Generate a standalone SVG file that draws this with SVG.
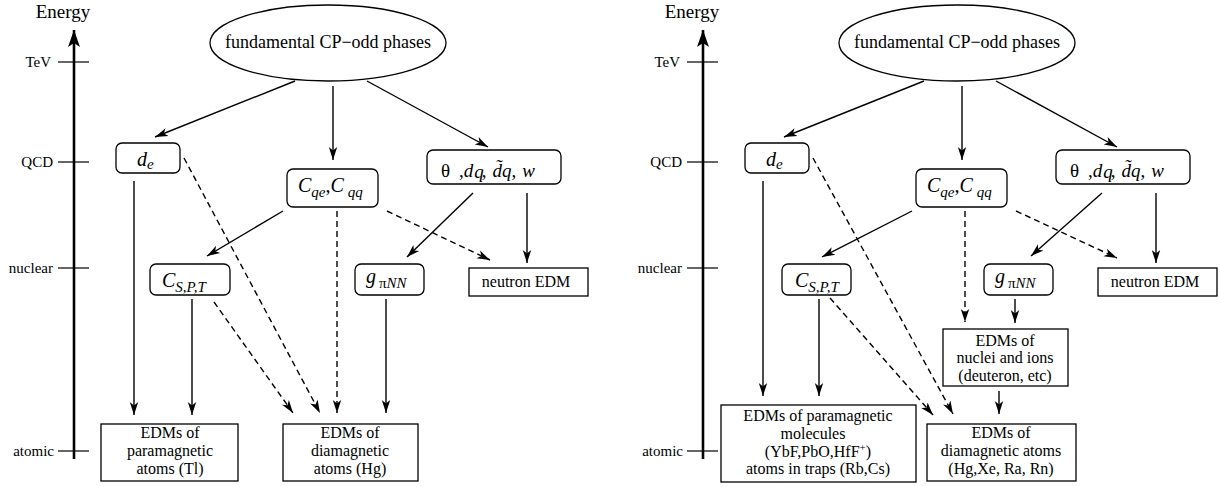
<svg xmlns="http://www.w3.org/2000/svg" width="1220" height="487" viewBox="0 0 1220 487">
<style>
text{font-family:"Liberation Serif","Times New Roman",serif;fill:#000}
.t{font-size:16px;text-anchor:middle}
.ax{font-size:15px;text-anchor:end}
.en{font-size:19px;text-anchor:middle}
.el{font-size:18px;text-anchor:middle}
.m{font-size:20px}
.th{font-size:19px}
.i{font-style:italic}
.s{font-size:15px}
.box{fill:#fff;stroke:#000;stroke-width:1.3}
.axis{stroke:#000;stroke-width:2.6;fill:none}
.tick{stroke:#000;stroke-width:1.2}
.c{stroke:#000;stroke-width:1.4;fill:none;marker-end:url(#ah)}
.d{stroke:#000;stroke-width:1.4;fill:none;stroke-dasharray:6,4;marker-end:url(#ah)}
</style>
<defs>
<marker id="ah" markerWidth="14" markerHeight="10" refX="13" refY="5" orient="auto" markerUnits="userSpaceOnUse"><path d="M0,0.8 L13,5 L0,9.2 L3.5,5 z" fill="#000"/></marker>
<marker id="axh" markerWidth="18" markerHeight="13" refX="17" refY="6.5" orient="auto" markerUnits="userSpaceOnUse"><path d="M0,0.5 L17,6.5 L0,12.5 L4,6.5 z" fill="#000"/></marker>
</defs>

<!-- LEFT PANEL AXIS -->
<g id="axis-left">
<text class="en" x="63" y="18">Energy</text>
<line class="axis" x1="74" y1="459" x2="74" y2="30" marker-end="url(#axh)"/>
<line class="tick" x1="58" y1="62" x2="89" y2="62"/>
<line class="tick" x1="58" y1="162" x2="89" y2="162"/>
<line class="tick" x1="58" y1="268" x2="89" y2="268"/>
<line class="tick" x1="58" y1="451" x2="89" y2="451"/>
<text class="ax" x="51" y="67">TeV</text>
<text class="ax" x="53" y="167">QCD</text>
<text class="ax" x="53" y="273">nuclear</text>
<text class="ax" x="54" y="456">atomic</text>
</g>

<!-- RIGHT PANEL AXIS -->
<g id="axis-right">
<text class="en" x="692" y="18">Energy</text>
<line class="axis" x1="703" y1="459" x2="703" y2="30" marker-end="url(#axh)"/>
<line class="tick" x1="687" y1="62" x2="718" y2="62"/>
<line class="tick" x1="687" y1="162" x2="718" y2="162"/>
<line class="tick" x1="687" y1="268" x2="718" y2="268"/>
<line class="tick" x1="687" y1="451" x2="718" y2="451"/>
<text class="ax" x="680" y="67">TeV</text>
<text class="ax" x="682" y="167">QCD</text>
<text class="ax" x="682" y="273">nuclear</text>
<text class="ax" x="683" y="456">atomic</text>
</g>

<!-- CONNECTORS -->
<g id="connectors">
<!-- left -->
<line class="c" x1="295" y1="81" x2="155" y2="137"/>
<line class="c" x1="333" y1="86" x2="333" y2="160"/>
<line class="c" x1="367" y1="81" x2="488" y2="147"/>
<line class="c" x1="134" y1="181" x2="134" y2="415"/>
<line class="d" x1="184" y1="158" x2="320" y2="413"/>
<line class="d" x1="214" y1="302" x2="293" y2="413"/>
<line class="d" x1="337" y1="211" x2="337" y2="413"/>
<line class="c" x1="283" y1="211" x2="207" y2="256"/>
<line class="d" x1="387" y1="211" x2="490" y2="260"/>
<line class="c" x1="473" y1="193" x2="407" y2="257"/>
<line class="c" x1="527" y1="193" x2="527" y2="263"/>
<line class="c" x1="192" y1="299" x2="192" y2="415"/>
<line class="c" x1="386" y1="299" x2="386" y2="413"/>
<!-- right -->
<line class="c" x1="924" y1="81" x2="784" y2="137"/>
<line class="c" x1="962" y1="86" x2="962" y2="160"/>
<line class="c" x1="996" y1="81" x2="1117" y2="147"/>
<line class="c" x1="763" y1="181" x2="763" y2="396"/>
<line class="d" x1="813" y1="158" x2="953" y2="414"/>
<line class="d" x1="830" y1="298" x2="933" y2="415"/>
<line class="d" x1="965" y1="211" x2="965" y2="322"/>
<line class="c" x1="912" y1="211" x2="822" y2="257"/>
<line class="d" x1="1016" y1="211" x2="1117" y2="258"/>
<line class="c" x1="1102" y1="193" x2="1031" y2="256"/>
<line class="c" x1="1156" y1="193" x2="1156" y2="263"/>
<line class="c" x1="819" y1="299" x2="819" y2="396"/>
<line class="c" x1="1015" y1="299" x2="1015" y2="323"/>
<line class="c" x1="999" y1="391" x2="999" y2="414"/>
</g>

<!-- LEFT NODES -->
<g id="L-phases">
<ellipse class="box" cx="328" cy="43" rx="118" ry="38"/>
<text class="el" x="328" y="48">fundamental CP−odd phases</text>
</g>
<g id="L-de">
<rect class="box" x="116" y="143" width="64" height="30" rx="6"/>
<text class="m i" x="137" y="166">d<tspan class="s" dy="3">e</tspan></text>
</g>
<g id="L-Cqe">
<rect class="box" x="287" y="169" width="91" height="38" rx="6"/>
<text class="m i" x="298" y="192">C<tspan class="s" dy="5">qe</tspan><tspan dy="-5">,C</tspan><tspan class="s" dx="4" dy="5">qq</tspan></text>
</g>
<g id="L-theta">
<rect class="box" x="427" y="150" width="134" height="34" rx="6"/>
<text class="th" x="441" y="177">θ<tspan dx="9">,</tspan><tspan class="i">d</tspan><tspan class="i" dx="1" dy="1">q</tspan><tspan dx="-2" dy="-1">,</tspan><tspan class="i" dx="6">d̃q</tspan><tspan>,</tspan><tspan class="i" dx="6">w</tspan></text>
</g>
<g id="L-CSPT">
<rect class="box" x="150" y="264" width="80" height="31" rx="6"/>
<text class="m i" x="162" y="287">C<tspan class="s" dy="5">S,P,T</tspan></text>
</g>
<g id="L-gpiNN">
<rect class="box" x="355" y="264" width="69" height="31" rx="6"/>
<text class="m i" x="366" y="283">g<tspan class="s" dx="3" dy="5" font-style="normal">π</tspan><tspan class="s">NN</tspan></text>
</g>
<g id="L-neutron">
<rect class="box" x="469" y="268" width="119" height="28"/>
<text class="t" x="526" y="287" font-size="18">neutron EDM</text>
</g>
<g id="L-para">
<rect class="box" x="101" y="424" width="137" height="57"/>
<text class="t" x="170" y="438">EDMs of<tspan x="170" dy="17.8">paramagnetic</tspan><tspan x="170" dy="17.8">atoms (Tl)</tspan></text>
</g>
<g id="L-dia">
<rect class="box" x="283" y="424" width="135" height="57"/>
<text class="t" x="350" y="438">EDMs of<tspan x="350" dy="17.8">diamagnetic</tspan><tspan x="350" dy="17.8">atoms (Hg)</tspan></text>
</g>

<!-- RIGHT NODES -->
<g id="R-phases">
<ellipse class="box" cx="957" cy="43" rx="118" ry="38"/>
<text class="el" x="957" y="48">fundamental CP−odd phases</text>
</g>
<g id="R-de">
<rect class="box" x="745" y="143" width="64" height="30" rx="6"/>
<text class="m i" x="766" y="166">d<tspan class="s" dy="3">e</tspan></text>
</g>
<g id="R-Cqe">
<rect class="box" x="916" y="169" width="91" height="38" rx="6"/>
<text class="m i" x="927" y="192">C<tspan class="s" dy="5">qe</tspan><tspan dy="-5">,C</tspan><tspan class="s" dx="4" dy="5">qq</tspan></text>
</g>
<g id="R-theta">
<rect class="box" x="1056" y="150" width="134" height="34" rx="6"/>
<text class="th" x="1070" y="177">θ<tspan dx="9">,</tspan><tspan class="i">d</tspan><tspan class="i" dx="1" dy="1">q</tspan><tspan dx="-2" dy="-1">,</tspan><tspan class="i" dx="6">d̃q</tspan><tspan>,</tspan><tspan class="i" dx="6">w</tspan></text>
</g>
<g id="R-CSPT">
<rect class="box" x="782" y="264" width="69" height="31" rx="6"/>
<text class="m i" x="795" y="287">C<tspan class="s" dy="5">S,P,T</tspan></text>
</g>
<g id="R-gpiNN">
<rect class="box" x="984" y="264" width="69" height="31" rx="6"/>
<text class="m i" x="995" y="283">g<tspan class="s" dx="3" dy="5" font-style="normal">π</tspan><tspan class="s">NN</tspan></text>
</g>
<g id="R-neutron">
<rect class="box" x="1098" y="268" width="119" height="28"/>
<text class="t" x="1155" y="287" font-size="18">neutron EDM</text>
</g>
<g id="R-nuclei">
<rect class="box" x="943" y="329" width="125" height="57"/>
<text class="t" x="1005" y="345.5">EDMs of<tspan x="1005" dy="17.8">nuclei and ions</tspan><tspan x="1005" dy="17.8">(deuteron, etc)</tspan></text>
</g>
<g id="R-para">
<rect class="box" x="721" y="405" width="195" height="77"/>
<text class="t" x="818" y="421">EDMs of paramagnetic<tspan x="813" dy="17.8">molecules</tspan><tspan x="818" dy="17.8">(YbF,PbO,HfF</tspan><tspan font-size="11" dy="-6">+</tspan><tspan dy="6">)</tspan><tspan x="818" dy="17.8">atoms in traps (Rb,Cs)</tspan></text>
</g>
<g id="R-dia">
<rect class="box" x="927" y="424" width="149" height="57"/>
<text class="t" x="1001" y="438">EDMs of<tspan x="1001" dy="17.8">diamagnetic atoms</tspan><tspan x="1001" dy="17.8">(Hg,Xe, Ra, Rn)</tspan></text>
</g>
</svg>
